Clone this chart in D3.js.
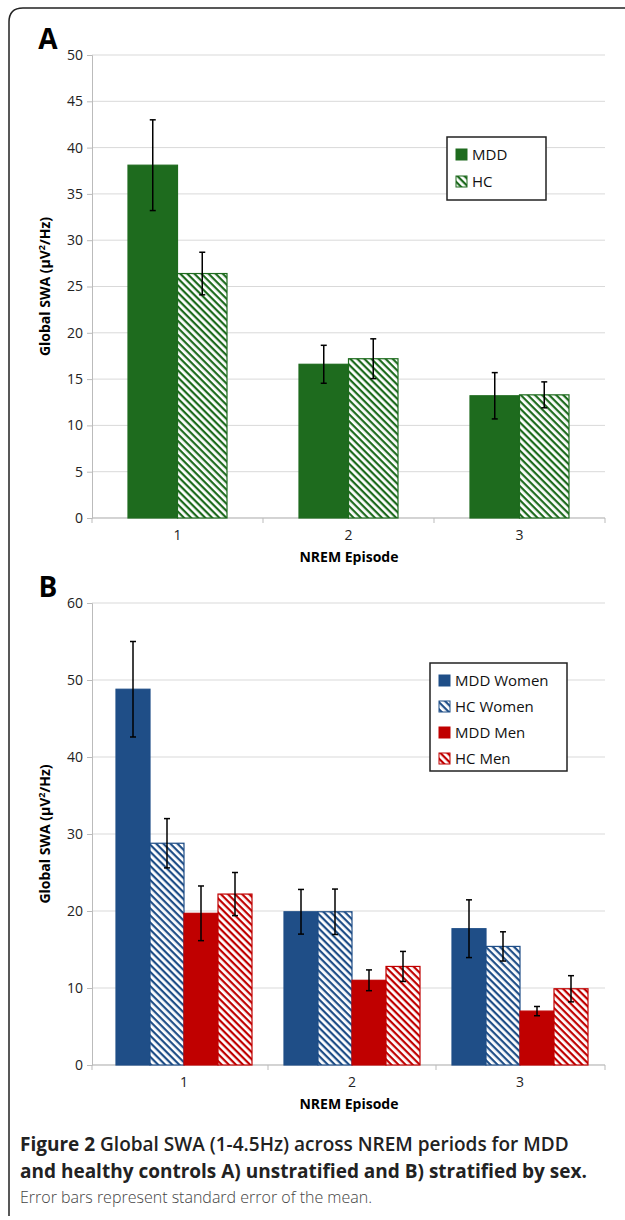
<!DOCTYPE html>
<html><head><meta charset="utf-8">
<script src="https://cdn.jsdelivr.net/npm/d3@7"></script>
<style>body{margin:0;background:#fff}svg{display:block}</style>
</head><body><svg></svg>
<script>
// data
var episodes = ['1', '2', '3']
var seriesA = ['MDD', 'HC']
var meanA = [[38.1, 26.4], [16.6, 17.2], [13.2, 13.3]]
var errA = [[4.9, 2.3], [2.05, 2.15], [2.5, 1.4]]
var seriesB = ['MDD Women', 'HC Women', 'MDD Men', 'HC Men']
var meanB = [[48.8, 28.8, 19.7, 22.2], [19.9, 19.9, 11.0, 12.8], [17.7, 15.4, 7.0, 9.9]]
var errB = [[6.2, 3.2, 3.55, 2.8], [2.9, 2.95, 1.35, 1.95], [3.75, 1.9, 0.6, 1.7]]
var ticksA = d3.range(0, 51, 5)
var ticksB = d3.range(0, 61, 10)

var w = 625, h = 1220
var svg = d3.select('svg').attr('width', w).attr('height', h)
var font = "'Open Sans', sans-serif"
var defs = svg.append('defs')

function hatch (id, color) {
  var p = defs.append('pattern').attr('id', id).attr('patternUnits', 'userSpaceOnUse')
    .attr('width', 5).attr('height', 5).attr('patternTransform', 'rotate(45)')
  p.append('rect').attr('width', 5).attr('height', 5).attr('fill', '#fff')
  p.append('rect').attr('width', 5).attr('height', 2.2).attr('fill', color)
}
var green = '#1e6b1e', blue = '#1f4e87', red = '#c00000'
hatch('hg', green); hatch('hb', blue); hatch('hr', red)

// frame
svg.append('path')
  .attr('d', 'M9,1216 L9,22 Q9,8 23,8 L640,8')
  .attr('fill', 'none').attr('stroke', '#222').attr('stroke-width', 1.5)

function panel (cfg) {
  var g = svg.append('g')
  var y = d3.scaleLinear().domain(cfg.domain).range([cfg.y0, cfg.y1])
  var x = d3.scaleBand().domain(episodes).range(cfg.xr)
  var xs = d3.scaleBand().domain(cfg.series).range([0, cfg.groupW])

  g.selectAll('.grid').data(cfg.ticks).enter().append('line')
    .attr('x1', 92).attr('x2', 605).attr('y1', y).attr('y2', y)
    .attr('stroke', '#d9d9d9')
  var ax = g.append('g').attr('transform', 'translate(92,0)')
    .call(d3.axisLeft(y).tickValues(cfg.ticks).tickSize(5).tickPadding(4))
  ax.select('.domain').attr('stroke', '#bbb')
  ax.selectAll('.tick line').attr('stroke', '#bbb')
  ax.selectAll('text').style('font-family', font).style('font-size', '14px').attr('fill', '#222')
  var bx = g.append('g').attr('transform', 'translate(0,' + cfg.y0 + ')')
    .call(d3.axisBottom(x).tickSize(0).tickPadding(12))
  bx.select('.domain').remove()
  g.append('line').attr('x1', 92).attr('x2', 605).attr('y1', cfg.y0).attr('y2', cfg.y0).attr('stroke', '#bbb')
  bx.selectAll('text').style('font-family', font).style('font-size', '14px').attr('fill', '#222')
  var seps = [92].concat(episodes.slice(1).map(function (e) { return x(e) })).concat([605])
  g.selectAll('.sep').data(seps).enter().append('line')
    .attr('x1', function (d) { return d }).attr('x2', function (d) { return d })
    .attr('y1', cfg.y0).attr('y2', cfg.y0 + 5).attr('stroke', '#bbb')

  episodes.forEach(function (ep, i) {
    var off = x(ep) + x.bandwidth() / 2 - cfg.groupW / 2
    cfg.series.forEach(function (s, j) {
      var v = cfg.mean[i][j], e = cfg.err[i][j]
      var bx0 = off + xs(s)
      g.append('rect').attr('x', bx0).attr('y', y(v))
        .attr('width', xs.bandwidth()).attr('height', y(0) - y(v))
        .attr('fill', cfg.fills[j]).attr('stroke', cfg.strokes[j]).attr('stroke-width', 1.2)
      var cx = bx0 + xs.bandwidth() / 2
      g.append('line').attr('x1', cx).attr('x2', cx).attr('y1', y(v - e)).attr('y2', y(v + e))
        .attr('stroke', '#000').attr('stroke-width', 1.5)
      ;[v - e, v + e].forEach(function (t) {
        g.append('line').attr('x1', cx - 3).attr('x2', cx + 3).attr('y1', y(t)).attr('y2', y(t))
          .attr('stroke', '#000').attr('stroke-width', 1.5)
      })
    })
  })

  g.append('text').text(cfg.label).attr('x', 48).attr('y', cfg.y1 - 6)
    .style('font-family', font).style('font-weight', 'bold').style('font-size', '28px').attr('text-anchor', 'middle')
  g.append('text').attr('x', 349).attr('y', cfg.y0 + 44).attr('text-anchor', 'middle')
    .style('font-family', font).style('font-weight', 'bold').style('font-size', '14px').text('NREM Episode')
  var yl = g.append('text').attr('transform', 'translate(50,' + (cfg.y0 + cfg.y1) / 2 + ') rotate(-90)')
    .attr('text-anchor', 'middle').style('font-family', font).style('font-weight', 'bold').style('font-size', '14px')
  yl.append('tspan').text('Global SWA (µV')
  yl.append('tspan').text('2').attr('dy', -5).style('font-size', '9px')
  yl.append('tspan').text('/Hz)').attr('dy', 5)

  var L = cfg.legend
  var lg = g.append('g')
  lg.append('rect').attr('x', L.x).attr('y', L.y).attr('width', L.w).attr('height', L.h)
    .attr('fill', '#fff').attr('stroke', '#222').attr('stroke-width', 1.5)
  cfg.series.forEach(function (s, j) {
    var yy = L.y + 19 + j * L.step
    lg.append('rect').attr('x', L.x + 9).attr('y', yy - 7).attr('width', 11).attr('height', 11)
      .attr('fill', cfg.fills[j]).attr('stroke', cfg.strokes[j])
    lg.append('text').attr('x', L.x + 25).attr('y', yy + 4).text(s)
      .style('font-family', font).style('font-size', '15px').attr('fill', '#111')
  })
}

panel({
  label: 'A', domain: [0, 50], y0: 518, y1: 55, ticks: ticksA, series: seriesA,
  mean: meanA, err: errA, groupW: 99, xr: [92, 605],
  fills: [green, 'url(#hg)'], strokes: [green, green],
  legend: { x: 447, y: 137, w: 99, h: 63, step: 27 }
})
panel({
  label: 'B', domain: [0, 60], y0: 1065, y1: 603, ticks: ticksB, series: seriesB,
  mean: meanB, err: errB, groupW: 136, xr: [100, 604],
  fills: [blue, 'url(#hb)', red, 'url(#hr)'], strokes: [blue, blue, red, red],
  legend: { x: 430, y: 663, w: 137, h: 108, step: 26 }
})

// caption
var cap = svg.append('g').style('font-family', font).attr('fill', '#222')
var t1 = cap.append('text').attr('x', 20).attr('y', 1151).style('font-size', '19px').style('font-weight', 'bold')
t1.append('tspan').text('Figure 2')
t1.append('tspan').text(' Global SWA (1-4.5Hz) across NREM periods for MDD').style('font-weight', '600')
cap.append('text').attr('x', 20).attr('y', 1178).style('font-size', '19px').style('font-weight', 'bold')
  .text('and healthy controls A) unstratified and B) stratified by sex.')
cap.append('text').attr('x', 20).attr('y', 1203).style('font-size', '16px').style('font-weight', '300').attr('fill', '#444')
  .text('Error bars represent standard error of the mean.')
</script></body></html>
